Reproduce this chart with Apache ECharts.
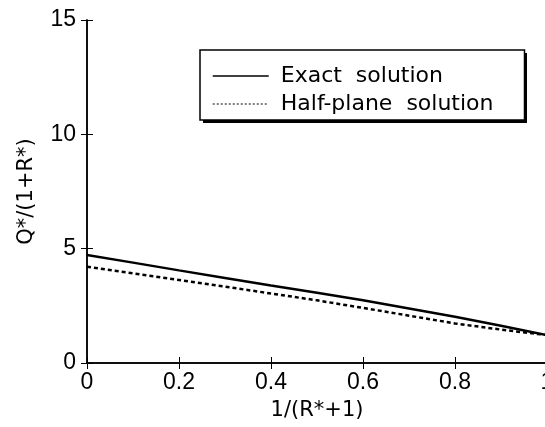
<!DOCTYPE html>
<html>
<head>
<meta charset="utf-8">
<script src="https://cdn.jsdelivr.net/npm/echarts@6/dist/echarts.min.js"></script>
<style>
  html, body { margin: 0; padding: 0; background: #fff; }
  #chart { width: 545px; height: 427px; }
</style>
</head>
<body>
<div id="chart"></div>
<script>
// values
var xVals = [0, 0.1, 0.2, 0.3, 0.4, 0.5, 0.6, 0.7, 0.8, 0.9, 1.0];
var exact = [4.72, 4.39, 4.05, 3.72, 3.39, 3.07, 2.74, 2.38, 2.02, 1.63, 1.22];
var halfPlane = [4.21, 3.92, 3.63, 3.34, 3.04, 2.74, 2.41, 2.07, 1.73, 1.46, 1.22];
var seriesNames = ['Exact  solution', 'Half-plane  solution'];

function pairs(ys) {
  return xVals.map(function(x, i) { return [x, ys[i]]; });
}

var tickFont = { color: '#000', fontFamily: 'Liberation Sans', fontSize: 23 };
var nameFont = { color: '#000', fontFamily: 'DejaVu Sans', fontSize: 21 };
var axisLine = { show: true, lineStyle: { color: '#000', width: 1.5 } };
var tickIn = { show: true, inside: true, length: 6, lineStyle: { color: '#000', width: 1 } };

var chart = echarts.init(document.getElementById('chart'), null, { renderer: 'canvas' });
chart.setOption({
  animation: false,
  backgroundColor: '#fff',
  grid: { left: 87, right: -2, top: 20, bottom: 64, outerBoundsMode: 'none', containLabel: false },
  // drop shadow behind the legend box
  graphic: [{
    type: 'rect', left: 203, top: 53, z: 1, silent: true,
    shape: { width: 324, height: 70 }, style: { fill: '#000' }
  }],
  legend: {
    z: 10,
    orient: 'vertical',
    left: 200, top: 50,
    padding: [15, 31, 5, 12],
    itemWidth: 56, itemHeight: 14, itemGap: 6,
    backgroundColor: '#fff',
    borderColor: '#000', borderWidth: 1.5, borderRadius: 0,
    itemStyle: { opacity: 0 },
    textStyle: { color: '#000', fontFamily: 'DejaVu Sans', fontSize: 22, lineHeight: 22, padding: [0, 0, 0, 7] },
    data: [
      { name: seriesNames[0], lineStyle: { width: 1.5, type: 'solid' } },
      { name: seriesNames[1], lineStyle: { width: 1, type: [2, 2] } }
    ]
  },
  xAxis: [
    {
      type: 'value', min: 0, max: 1, interval: 0.2, position: 'bottom',
      name: '1/(R*+1)', nameLocation: 'middle', nameGap: 37, nameTextStyle: nameFont,
      axisLine: axisLine, axisTick: tickIn, splitLine: { show: false },
      axisLabel: Object.assign({ margin: 8, formatter: function(v) { return v === 1 ? '1' : String(v); } }, tickFont)
    },
    {
      type: 'value', min: 0, max: 1, interval: 0.2, position: 'top',
      axisLine: axisLine, axisTick: tickIn, splitLine: { show: false }, axisLabel: { show: false }
    }
  ],
  yAxis: [
    {
      type: 'value', min: 0, max: 15, interval: 5, position: 'left',
      name: 'Q*/(1+R*)', nameLocation: 'middle', nameGap: 50, nameTextStyle: nameFont,
      axisLine: axisLine, axisTick: tickIn, splitLine: { show: false },
      axisLabel: Object.assign({ margin: 11 }, tickFont)
    },
    {
      type: 'value', min: 0, max: 15, interval: 5, position: 'right',
      axisLine: axisLine, axisTick: tickIn, splitLine: { show: false }, axisLabel: { show: false }
    }
  ],
  series: [
    {
      name: seriesNames[0], type: 'line', data: pairs(exact), symbol: 'none',
      lineStyle: { color: '#000', width: 2.5, type: 'solid' }, itemStyle: { color: '#000' }
    },
    {
      name: seriesNames[1], type: 'line', data: pairs(halfPlane), symbol: 'none',
      lineStyle: { color: '#000', width: 2.5, type: [4, 3] }, itemStyle: { color: '#000' }
    }
  ]
});
</script>
</body>
</html>
